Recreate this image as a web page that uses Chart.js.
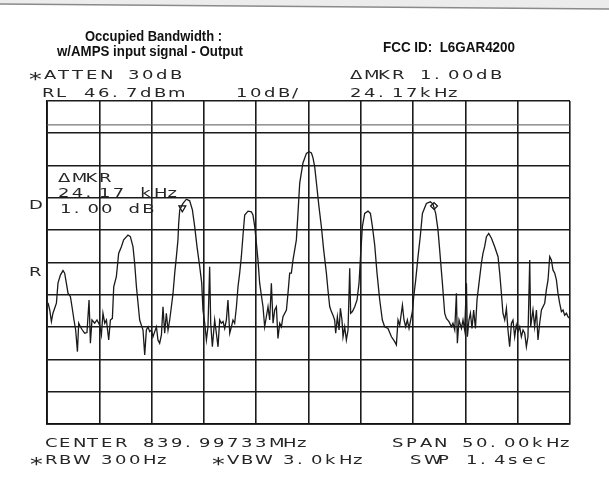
<!DOCTYPE html>
<html>
<head>
<meta charset="utf-8">
<title>Occupied Bandwidth - Output</title>
<script src="https://cdn.jsdelivr.net/npm/chart.js@4.4.1/dist/chart.umd.min.js"></script>
<style>
  html, body { margin: 0; padding: 0; background: #fff; }
  canvas { display: block; }
</style>
</head>
<body>
<canvas id="scan" width="609" height="480"></canvas>
<script>
// trace: offset from centre frequency (kHz) and level (dBm)
const offsetKHz = [
  -24.90, -24.74, -24.58, -24.43, -24.10, -23.95, -23.72, -23.47, -23.31, -23.15,
  -22.99, -22.76, -22.61, -22.42, -22.26, -22.09, -21.97, -21.81, -21.62, -21.40,
  -21.18, -20.98, -20.85, -20.70, -20.44, -20.22, -19.96, -19.80, -19.65, -19.48,
  -19.32, -19.10, -18.94, -18.75, -18.62, -18.37, -18.15, -17.89, -17.67, -17.26,
  -17.03, -16.78, -16.62, -16.45, -16.14, -15.98, -15.82, -15.66, -15.50, -15.34,
  -15.18, -15.02, -14.87, -14.70, -14.54, -14.39, -14.23, -14.06, -13.91, -13.75,
  -13.59, -13.43, -13.27, -13.11, -12.95, -12.79, -12.63, -12.48, -12.41, -12.31,
  -12.00, -11.67, -11.36, -11.10, -10.88, -10.66, -10.40, -10.21, -10.09, -9.92,
  -9.76, -9.61, -9.45, -9.35, -9.19, -8.97, -8.81, -8.65, -8.49, -8.33,
  -8.17, -8.01, -7.85, -7.70, -7.53, -7.37, -7.22, -7.06, -6.89, -6.74,
  -6.58, -6.42, -6.26, -6.10, -5.78, -5.46, -5.31, -5.14, -4.98, -4.83,
  -4.67, -4.35, -4.19, -4.03, -3.87, -3.71, -3.55, -3.39, -3.23, -3.07,
  -2.92, -2.75, -2.59, -2.44, -2.11, -1.96, -1.80, -1.64, -1.48, -1.16,
  -1.00, -0.84, -0.53, -0.20, 0.05, 0.28, 0.43, 0.59, 0.76, 1.00,
  1.23, 1.45, 1.71, 1.86, 2.03, 2.19, 2.34, 2.50, 2.60, 2.76,
  2.92, 3.05, 3.20, 3.30, 3.46, 3.62, 3.78, 3.94, 4.03, 4.20,
  4.42, 4.64, 4.83, 4.99, 5.15, 5.37, 5.69, 5.92, 6.11, 6.33,
  6.55, 6.81, 7.06, 7.28, 7.60, 7.93, 8.24, 8.40, 8.56, 8.72,
  8.98, 9.13, 9.29, 9.45, 9.61, 9.77, 9.93, 10.06, 10.25, 10.47,
  10.70, 10.89, 11.27, 11.65, 11.90, 12.16, 12.38, 12.54, 12.80, 13.02,
  13.18, 13.43, 13.66, 13.81, 13.98, 14.14, 14.23, 14.39, 14.62, 14.77,
  14.93, 15.10, 15.19, 15.34, 15.48, 15.63, 15.79, 15.96, 16.11, 16.30,
  16.53, 16.68, 16.84, 17.01, 17.23, 17.49, 17.80, 18.12, 18.28, 18.44,
  18.59, 18.76, 18.92, 19.07, 19.23, 19.40, 19.55, 19.71, 19.87, 20.03,
  20.19, 20.35, 20.51, 20.67, 20.83, 20.98, 21.15, 21.24, 21.46, 21.62,
  21.79, 21.94, 22.10, 22.27, 22.58, 22.74, 22.90, 23.06, 23.22, 23.37,
  23.54, 23.70, 23.85, 24.01, 24.18, 24.33, 24.49, 24.66, 24.81, 24.97
];
const levelDbm = [
  -15.8, -18.0, -21.6, -19.0, -15.9, -9.7, -7.2, -5.8, -6.6, -9.7,
  -12.8, -13.9, -17.0, -21.1, -24.2, -30.9, -22.1, -23.2, -24.2, -25.2,
  -25.0, -14.9, -28.3, -21.1, -22.1, -21.1, -22.7, -25.7, -19.0, -22.1,
  -21.1, -27.3, -21.1, -20.6, -10.8, -7.7, -0.5, 1.6, 3.7, 5.2,
  4.7, 1.6, -3.5, -10.8, -21.1, -22.7, -24.2, -31.9, -24.2, -23.2,
  -24.7, -24.2, -26.3, -24.7, -23.2, -27.3, -28.3, -25.7, -17.0, -25.2,
  -19.0, -24.2, -21.1, -17.0, -12.8, -6.6, -1.5, 3.7, 8.9, 13.0,
  15.0, 16.3, 15.8, 13.0, 7.8, 1.6, -4.6, -9.6, -18.0, -22.1,
  -27.3, -23.2, -4.6, -22.1, -29.4, -21.1, -25.2, -29.4, -21.1, -22.1,
  -21.6, -23.7, -21.1, -14.9, -25.2, -23.2, -21.1, -22.1, -17.0, -10.8,
  -6.6, -1.5, 5.2, 11.4, 12.6, 12.4, 11.4, 7.8, 2.6, -2.5,
  -9.7, -17.0, -23.2, -20.1, -17.0, -21.1, -9.7, -22.1, -18.0, -17.0,
  -26.8, -22.1, -23.2, -20.1, -18.0, -12.8, -6.6, -6.6, -2.5, 3.7,
  12.3, 21.3, 27.5, 30.5, 31.0, 30.6, 29.1, 26.4, 21.3, 14.0,
  7.8, 0.6, -6.6, -11.8, -17.0, -18.5, -19.6, -21.1, -25.2, -20.1,
  -24.2, -17.5, -21.1, -26.3, -23.2, -27.3, -24.2, -5.1, -19.0, -18.5,
  -17.0, -14.9, -9.7, -0.5, 7.8, 11.9, 12.6, 11.9, 7.8, 2.1,
  -6.6, -14.9, -21.1, -23.2, -23.7, -26.3, -27.8, -28.8, -21.1, -22.7,
  -16.5, -21.1, -23.2, -21.1, -23.7, -21.1, -18.5, -13.9, -8.7, -1.5,
  5.2, 11.9, 15.0, 15.5, 14.8, 11.9, 6.8, 0.6, -9.7, -19.0,
  -20.6, -21.6, -23.2, -22.1, -24.2, -12.8, -28.3, -21.1, -23.7, -21.1,
  -24.2, -9.7, -26.3, -21.1, -19.0, -23.7, -18.0, -23.7, -14.9, -9.7,
  -3.5, -0.5, 1.6, 4.7, 5.7, 4.2, 1.6, -1.5, -6.6, -12.8,
  -19.0, -21.1, -17.5, -24.2, -29.4, -22.1, -21.1, -26.3, -22.7, -24.7,
  -23.2, -26.3, -24.2, -25.2, -29.4, -26.3, -2.5, -23.2, -18.0, -23.2,
  -18.0, -27.3, -22.1, -18.0, -15.9, -11.8, -8.7, -1.5, -2.5, -5.6,
  -6.6, -8.7, -12.8, -15.9, -18.5, -18.0, -19.6, -19.0, -20.1, -20.6
];

// delta marker pair (reference marker, active marker)
const markerKHz = [-12.06, 12.00];
const markerDbm = [13.6, 14.2];

// 5 kHz/div across a 50 kHz span, 10 dB/div down from RL 46.7 dBm
const xTicks = [-25, -20, -15, -10, -5, 0, 5, 10, 15, 20, 25];
const yTicks = [46.7, 36.7, 26.7, 16.7, 6.7, -3.3, -13.3, -23.3, -33.3, -43.3, -53.3];
const displayLineDbm = 39.3;

// text printed by the analyzer
const topLeft = ['*ATTEN 30dB', 'RL 46.7dBm'];
const topRight = ['\u0394MKR 1.00dB', '24.17kHz'];
const scaleText = '10dB/';
const markerReadout = ['\u0394MKR', '24.17 kHz', '1.00 dB'];
const bottomLeft = ['CENTER 839.99733MHz', '*RBW 300Hz'];
const bottomMid = '*VBW 3.0kHz';
const bottomRight = ['SPAN 50.00kHz', 'SWP 1.4sec'];

// analyzer lettering: fixed pitch, wide thin glyphs
function scopeText(ctx, str, x, y, pitch) {
  ctx.save();
  ctx.fillStyle = '#262626';
  [...str].forEach((ch, i) => {
    ctx.save();
    if (ch === '*') {
      ctx.font = '17px "DejaVu Sans"';
      ctx.translate(x + i * (pitch || 14) - 1, y + 6);
    } else {
      ctx.font = '12px "DejaVu Sans"';
      ctx.translate(x + i * (pitch || 14), y);
    }
    ctx.scale(1.5, 1);
    ctx.fillText(ch, 0, 0);
    ctx.restore();
  });
  ctx.restore();
}

// squeeze text into a given width (the typed captions are condensed)
function fitText(ctx, str, x, y, w) {
  ctx.save();
  ctx.font = 'bold 15px "Liberation Sans"';
  ctx.fillStyle = '#111';
  const m = ctx.measureText(str).width;
  ctx.translate(x, y);
  ctx.scale(w / m, 1);
  ctx.fillText(str, 0, 0);
  ctx.restore();
}

const paperPlugin = {
  id: 'paper',
  beforeDraw(chart) {
    const ctx = chart.ctx;
    ctx.save();
    ctx.fillStyle = '#fff';
    ctx.fillRect(0, 0, chart.width, chart.height);
    // scanner edge at the top
    ctx.fillStyle = '#ececec';
    ctx.beginPath();
    ctx.moveTo(0, 0); ctx.lineTo(chart.width, 0); ctx.lineTo(chart.width, 9); ctx.lineTo(0, 4);
    ctx.closePath();
    ctx.fill();
    ctx.strokeStyle = '#8a8a8a';
    ctx.lineWidth = 1.5;
    ctx.beginPath();
    ctx.moveTo(0, 4); ctx.lineTo(chart.width, 9);
    ctx.stroke();
    ctx.restore();
  },
  afterDraw(chart) {
    const ctx = chart.ctx;
    fitText(ctx, 'Occupied Bandwidth :', 85, 41, 137);
    fitText(ctx, 'w/AMPS input signal - Output', 57, 56, 186);
    fitText(ctx, 'FCC ID:  L6GAR4200', 383, 52, 132);

    scopeText(ctx, topLeft[0], 30, 79);
    scopeText(ctx, topLeft[1], 42, 97);
    scopeText(ctx, scaleText, 236, 97);
    scopeText(ctx, topRight[0], 350, 79);
    scopeText(ctx, topRight[1], 350, 97);

    scopeText(ctx, 'D', 29, 209);
    scopeText(ctx, 'R', 29, 276);

    scopeText(ctx, markerReadout[0], 58, 182, 13.7);
    scopeText(ctx, markerReadout[1], 58, 197, 13.7);
    scopeText(ctx, markerReadout[2], 60, 213, 13.7);

    scopeText(ctx, bottomLeft[0], 45, 447);
    scopeText(ctx, bottomRight[0], 392, 447);
    scopeText(ctx, bottomLeft[1], 31, 464);
    scopeText(ctx, bottomMid, 213, 464);
    scopeText(ctx, bottomRight[1], 410, 464);
  }
};

const traceData = offsetKHz.map((f, i) => ({ x: f, y: levelDbm[i] }));
const markerData = markerKHz.map((f, i) => ({ x: f, y: markerDbm[i] }));

const gridOpts = { color: '#1b1b1b', lineWidth: 1.6, drawTicks: false };

new Chart(document.getElementById('scan'), {
  type: 'line',
  data: {
    datasets: [
      { data: traceData, borderColor: '#1a1a1a', borderWidth: 1.3, pointRadius: 0, tension: 0 },
      { data: [{ x: xTicks[0], y: displayLineDbm }, { x: xTicks[xTicks.length - 1], y: displayLineDbm }],
        borderColor: '#555', borderWidth: 1, pointRadius: 0 },
      { data: markerData, showLine: false, pointStyle: ['triangle', 'rectRot'], rotation: [180, 0],
        pointRadius: [4, 3.5], borderColor: '#111', backgroundColor: '#fff', borderWidth: 1.2 }
    ]
  },
  options: {
    responsive: false,
    animation: false,
    devicePixelRatio: 1,
    layout: { padding: { left: 47, right: 39, top: 101, bottom: 56 } },
    plugins: { legend: { display: false }, tooltip: { enabled: false } },
    scales: {
      x: {
        type: 'linear', min: xTicks[0], max: xTicks[xTicks.length - 1],
        afterBuildTicks: s => { s.ticks = xTicks.map(v => ({ value: v })); },
        ticks: { display: false },
        grid: gridOpts,
        border: { color: '#111', width: 1.8 }
      },
      y: {
        type: 'linear', min: yTicks[yTicks.length - 1], max: yTicks[0],
        afterBuildTicks: s => { s.ticks = yTicks.map(v => ({ value: v })); },
        ticks: { display: false },
        grid: gridOpts,
        border: { color: '#111', width: 1.8 }
      }
    }
  },
  plugins: [paperPlugin]
});
</script>
</body>
</html>
